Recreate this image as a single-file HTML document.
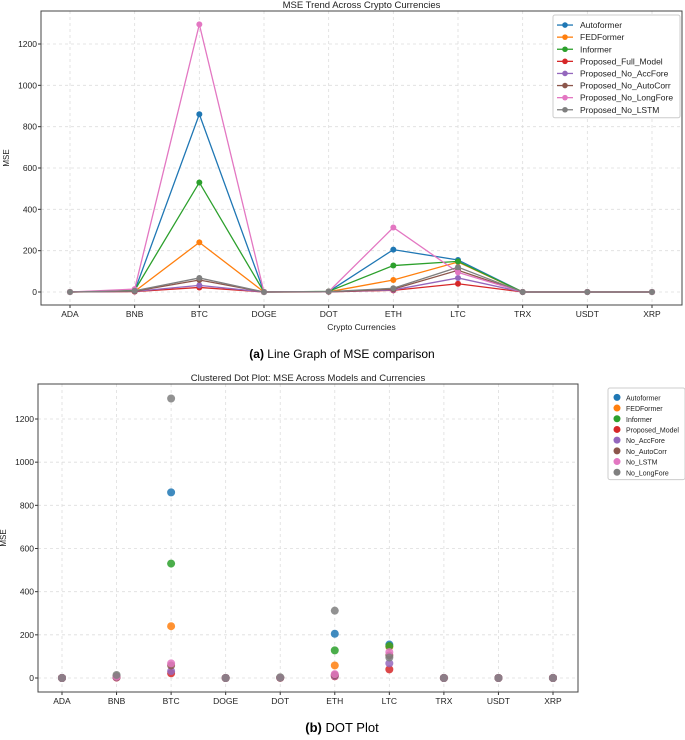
<!DOCTYPE html>
<html><head><meta charset="utf-8"><style>
body{margin:0;background:#fff;width:685px;height:735px;overflow:hidden;font-family:"Liberation Sans",sans-serif}
svg text{font-family:"Liberation Sans",sans-serif}
</style></head><body>
<svg id="s" width="685" height="735">
<text x="342" y="358" text-anchor="middle" font-family="Liberation Serif" font-size="12"><tspan font-weight="bold" font-family="Liberation Sans">(a)</tspan> Line Graph of MSE comparison</text>
<text x="342" y="732" text-anchor="middle" font-family="Liberation Serif" font-size="13"><tspan font-weight="bold" font-family="Liberation Sans">(b)</tspan> DOT Plot</text>
</svg>
<script>
const categories=["ADA","BNB","BTC","DOGE","DOT","ETH","LTC","TRX","USDT","XRP"];
const seriesNames=["Autoformer","FEDFormer","Informer","Proposed_Full_Model","Proposed_No_AccFore","Proposed_No_AutoCorr","Proposed_No_LongFore","Proposed_No_LSTM"];
const dotNames=["Autoformer","FEDFormer","Informer","Proposed_Model","No_AccFore","No_AutoCorr","No_LSTM","No_LongFore"];
const colors=["#1f77b4","#ff7f0e","#2ca02c","#d62728","#9467bd","#8c564b","#e377c2","#7f7f7f"];
const autoformer=[0,5,860,0,2,205,155,0,0,0];
const fedformer=[0,3,240,0,1,58,145,0,0,0];
const informer=[0,8,530,0,3,128,148,0,0,0];
const fullModel=[0,2,22,0,1,8,40,0,0,0];
const noAccFore=[0,3,32,0,1,10,68,0,0,0];
const noAutoCorr=[0,4,58,0,1,14,105,0,0,0];
const noLongFore=[0,14,1295,0,2,312,95,0,0,0];
const noLSTM=[0,6,68,0,2,18,120,0,0,0];
const lineSeries=[autoformer,fedformer,informer,fullModel,noAccFore,noAutoCorr,noLongFore,noLSTM];
const dotSeries=[autoformer,fedformer,informer,fullModel,noAccFore,noAutoCorr,noLSTM,noLongFore];
const yTicks=[0,200,400,600,800,1000,1200];
const NS="http://www.w3.org/2000/svg";
const svg=document.getElementById('s');
function mk(tag,attrs,parent){const e=document.createElementNS(NS,tag);for(const k in attrs)e.setAttribute(k,attrs[k]);(parent||svg).appendChild(e);return e;}
function txt(x,y,s,attrs){const t=mk('text',Object.assign({x:x,y:y,'font-size':9,fill:'#222'},attrs||{}));t.textContent=s;return t;}

function chart(cfg){
  const g=mk('g',{});
  
  
  const xS=i=>cfg.x0+i*(cfg.x1-cfg.x0)/(categories.length-1);
  const yS=v=>cfg.y0+(v/1200)*(cfg.y1200-cfg.y0);
  yTicks.forEach(v=>{mk('line',{x1:cfg.L,x2:cfg.R,y1:yS(v),y2:yS(v),stroke:'#ddd','stroke-dasharray':'3,3','stroke-width':0.8},g);
    const t=txt(cfg.L-4,yS(v)+3,String(v),{'text-anchor':'end','font-size':8.5});
    
    mk('line',{x1:cfg.L-3,x2:cfg.L,y1:yS(v),y2:yS(v),stroke:'#333'},g);});
  categories.forEach((c,i)=>{mk('line',{x1:xS(i),x2:xS(i),y1:cfg.T,y2:cfg.B,stroke:'#ddd','stroke-dasharray':'3,3','stroke-width':0.8},g);
    mk('line',{x1:xS(i),x2:xS(i),y1:cfg.B,y2:cfg.B+3,stroke:'#333'},g);
    const t=txt(xS(i),cfg.B+12,c,{'text-anchor':'middle','font-size':8.5});
    });
  const fr=mk('rect',{x:cfg.L,y:cfg.T,width:cfg.R-cfg.L,height:cfg.B-cfg.T,fill:'none',stroke:'#444','stroke-width':1},g);
  
  const tt=txt((cfg.L+cfg.R)/2,cfg.T-3,cfg.title,{'text-anchor':'middle','font-size':9.5});
  
  const yl=txt(0,0,'MSE',{'text-anchor':'middle','font-size':8,transform:`translate(${cfg.L-32},${(cfg.T+cfg.B)/2}) rotate(-90)`});
  
  if(cfg.xlabel){const xl=txt((cfg.L+cfg.R)/2,cfg.B+25,cfg.xlabel,{'text-anchor':'middle','font-size':8.5});
    }
  cfg.series.forEach((s,k)=>{
    if(cfg.lines){const pl=mk('polyline',{points:s.map((v,i)=>xS(i)+','+yS(v)).join(' '),fill:'none',stroke:colors[k],'stroke-width':1.3},g);
      }
    s.forEach((v,i)=>{const c=mk('circle',{cx:xS(i),cy:yS(v),r:cfg.r,fill:colors[k],'fill-opacity':cfg.lines?1:0.85},g);
      });
  });
  const lg=mk('g',{},g);
  
  mk('rect',{x:cfg.lx,y:cfg.ly,width:cfg.lw,height:cfg.names.length*cfg.lh+6,fill:'#fff',stroke:'#ccc',rx:2},lg);
  cfg.names.forEach((n,k)=>{const yy=cfg.ly+4+cfg.lh*k+cfg.lh/2;
    if(cfg.lines)mk('line',{x1:cfg.lx+4,x2:cfg.lx+20,y1:yy,y2:yy,stroke:colors[k],'stroke-width':1.3},lg);
    mk('circle',{cx:cfg.lx+(cfg.lines?12:9),cy:yy,r:cfg.lines?2.8:3.5,fill:colors[k]},lg);
    const t=txt(cfg.lx+(cfg.lines?27:18),yy+3,n,{'font-size':cfg.lines?8.5:7});
    });
}
chart({name:'line-chart',title:'MSE Trend Across Crypto Currencies',xlabel:'Crypto Currencies',L:41,R:682,T:11,B:305,x0:70,x1:652,y0:292,y1200:44,
  series:lineSeries,names:seriesNames,lines:true,r:3,lx:553,ly:15,lw:127,lh:12.1});
chart({name:'dot-plot',title:'Clustered Dot Plot: MSE Across Models and Currencies',xlabel:null,L:38,R:578,T:384,B:692,x0:62,x1:553,y0:678,y1200:419,
  series:dotSeries,names:dotNames,lines:false,r:4,lx:608,ly:388,lw:77,lh:10.7});
</script>
</body></html>
